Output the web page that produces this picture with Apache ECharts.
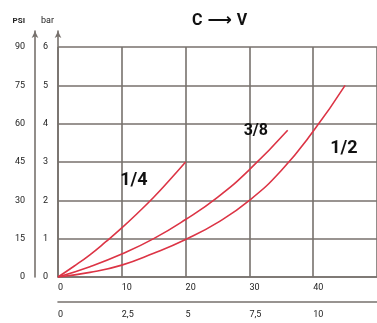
<!DOCTYPE html>
<html>
<head>
<meta charset="utf-8">
<script src="https://cdn.jsdelivr.net/npm/echarts@6/dist/echarts.min.js"></script>
<style>
  html, body { margin: 0; padding: 0; background: #fff; }
  #chart { width: 377px; height: 323px; }
</style>
</head>
<body>
<div id="chart"></div>
<script>
// flow (l/min) vs pressure (bar)
const flow14 = [0, 2.5, 5, 7.5, 10, 12.5, 15, 17.5, 20];
const bar14 = [0, 0.28, 0.58, 0.92, 1.28, 1.67, 2.08, 2.53, 3.0];

const flow38 = [0, 5, 10, 15, 20, 25, 30, 36];
const bar38 = [0, 0.27, 0.6, 1.0, 1.5, 2.08, 2.8, 3.83];

const flow12 = [0, 5, 10, 15, 20, 25, 30, 35, 40, 45];
const bar12 = [0, 0.12, 0.31, 0.62, 0.98, 1.42, 2.0, 2.78, 3.8, 5.0];

const seriesNames = ["1/4", "3/8", "1/2"];

const GRID = "#77716d";
const RED = "#dc3445";
const TXT = "#222";
const FONT = "Roboto";

const pairs = (xs, ys) => xs.map((x, i) => [x, ys[i]]);

function curve(name, data, labelAt, fontSize) {
  return {
    name: name,
    type: "line",
    xAxisIndex: 0,
    yAxisIndex: 0,
    smooth: 0.5,
    smoothConstraint: false,
    showSymbol: false,
    silent: true,
    lineStyle: { color: RED, width: 1.6 },
    data: data,
    markPoint: {
      symbol: "circle",
      symbolSize: 0,
      silent: true,
      label: {
        show: true,
        position: "inside",
        formatter: name,
        color: "#111",
        fontFamily: FONT,
        fontWeight: "bold",
        fontSize: fontSize,
      },
      data: [{ coord: labelAt }],
    },
  };
}

const chart = echarts.init(document.getElementById("chart"), null, { renderer: "canvas" });

const option = {
  animation: false,
  title: {
    text: "{t|C} {a|\u27F6} {t|V}",
    left: 187,
    top: 7,
    textStyle: {
      rich: {
        t: { fontFamily: FONT, fontWeight: "bold", fontSize: 16, color: "#111" },
        a: { fontFamily: "DejaVu Sans", fontWeight: "bold", fontSize: 17, color: "#111" },
      },
    },
  },
  grid: [
    // plot area
    { left: 58, top: 47, right: -3.5, bottom: 46 },
    // taller box only for the arrowed vertical axes
    { left: 58, top: 31, right: -3.5, bottom: 46 },
  ],
  xAxis: [
    {
      gridIndex: 0,
      type: "value",
      min: 0,
      max: 50,
      interval: 10,
      axisLine: { show: true, lineStyle: { color: GRID, width: 1.6 } },
      axisTick: { show: false },
      splitLine: { show: true, lineStyle: { color: GRID, width: 1.6 } },
      axisLabel: {
        showMaxLabel: false,
        align: "left",
        margin: 6,
        color: TXT,
        fontFamily: FONT,
        fontSize: 9,
      },
    },
    {
      gridIndex: 0,
      type: "value",
      position: "bottom",
      offset: 25,
      min: 0,
      max: 12.5,
      interval: 2.5,
      axisLine: { show: true, onZero: false, lineStyle: { color: GRID, width: 1.6 } },
      axisTick: { show: false },
      splitLine: { show: false },
      axisLabel: {
        showMaxLabel: false,
        align: "left",
        margin: 8,
        color: TXT,
        fontFamily: FONT,
        fontSize: 9,
        formatter: (v) => String(v).replace(".", ","),
      },
    },
    { gridIndex: 1, type: "value", show: false, min: 0, max: 50 },
  ],
  yAxis: [
    {
      gridIndex: 0,
      type: "value",
      min: 0,
      max: 6,
      interval: 1,
      axisLine: { show: false },
      axisTick: { show: false },
      axisLabel: { show: false },
      splitLine: { show: true, lineStyle: { color: GRID, width: 1.6 } },
    },
    {
      gridIndex: 1,
      type: "value",
      name: "bar",
      nameLocation: "end",
      nameGap: 6,
      nameTextStyle: { align: "right", padding: [0, 4, 0, 0], color: TXT, fontFamily: FONT, fontSize: 9 },
      min: 0,
      max: 6 * 246 / 230,
      interval: 1,
      axisLine: { show: true, symbol: ["none", "arrow"], symbolSize: [5, 7], lineStyle: { color: GRID, width: 1.6 } },
      axisTick: { show: false },
      splitLine: { show: false },
      axisLabel: { showMaxLabel: false, margin: 10, color: TXT, fontFamily: FONT, fontSize: 9 },
    },
    {
      gridIndex: 1,
      type: "value",
      name: "PSI",
      nameLocation: "end",
      nameGap: 6,
      nameTextStyle: { align: "right", padding: [0, 10, 0, 0], color: TXT, fontFamily: FONT, fontSize: 8, fontWeight: "bold" },
      position: "left",
      offset: 23,
      min: 0,
      max: 90 * 246 / 230,
      interval: 15,
      axisLine: { show: true, symbol: ["none", "arrow"], symbolSize: [5, 7], lineStyle: { color: GRID, width: 1.6 } },
      axisTick: { show: false },
      splitLine: { show: false },
      axisLabel: { showMaxLabel: false, margin: 10, color: TXT, fontFamily: FONT, fontSize: 9 },
    },
  ],
  series: [
    curve(seriesNames[0], pairs(flow14, bar14), [11.9, 2.53], 18),
    curve(seriesNames[1], pairs(flow38, bar38), [31.0, 3.8], 16),
    curve(seriesNames[2], pairs(flow12, bar12), [44.8, 3.35], 18),
  ],
};

chart.setOption(option);
</script>
</body>
</html>
